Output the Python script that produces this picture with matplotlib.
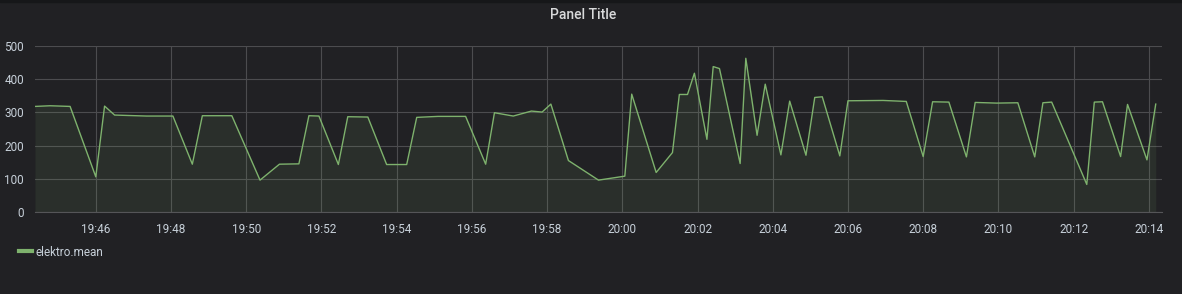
import matplotlib
matplotlib.use("Agg")
import matplotlib.pyplot as plt
import matplotlib.dates as mdates
import pandas as pd

# elektro.mean samples
times = ["19:44:23", "19:44:47", "19:45:19", "19:46:00", "19:46:14", "19:46:30",
         "19:47:21", "19:48:03", "19:48:34", "19:48:50", "19:49:37", "19:50:22",
         "19:50:53", "19:51:24", "19:51:40", "19:51:56", "19:52:27", "19:52:42",
         "19:53:14", "19:53:44", "19:54:16", "19:54:32", "19:55:06", "19:55:50",
         "19:56:22", "19:56:36", "19:57:06", "19:57:35", "19:57:52", "19:58:06",
         "19:58:34", "19:59:22", "20:00:04", "20:00:15", "20:00:54", "20:01:20",
         "20:01:31", "20:01:44", "20:01:55", "20:02:15", "20:02:25", "20:02:35",
         "20:03:08", "20:03:17", "20:03:35", "20:03:48", "20:04:13", "20:04:27",
         "20:04:53", "20:05:07", "20:05:19", "20:05:47", "20:06:00", "20:06:56",
         "20:07:33", "20:08:00", "20:08:15", "20:08:41", "20:09:09", "20:09:23",
         "20:09:57", "20:10:31", "20:10:58", "20:11:11", "20:11:25", "20:12:21",
         "20:12:33", "20:12:46", "20:13:15", "20:13:26", "20:13:57", "20:14:11"]
values = [318, 320, 318, 106, 319, 292,
          289, 289, 144, 290, 290, 96,
          144, 145, 290, 289, 143, 287,
          286, 143, 143, 285, 288, 288,
          144, 299, 289, 304, 301, 325,
          155, 96, 108, 355, 119, 179,
          354, 354, 418, 219, 438, 432,
          146, 463, 231, 385, 172, 334,
          171, 345, 347, 169, 335, 336,
          333, 167, 332, 331, 166, 330,
          328, 329, 166, 329, 331, 83,
          331, 332, 167, 324, 157, 325]
x_start = "19:44:23"
x_end = "20:14:21"

day = "2020-01-01 "
t = pd.to_datetime([day + s for s in times])

bg = "#212124"
green = "#7eb26d"
txt = "#c7d0d9"

fig = plt.figure(figsize=(11.82, 2.94), dpi=100, facecolor=bg)
ax = fig.add_axes([35 / 1182, 82 / 294, 1127 / 1182, 166 / 294])
ax.set_facecolor(bg)

ax.fill_between(t, values, 0, color=green, alpha=0.1, linewidth=0)
ax.plot(t, values, color=green, linewidth=1, label="elektro.mean")

ax.set_xlim(pd.Timestamp(day + x_start), pd.Timestamp(day + x_end))
ax.set_ylim(0, 500)
ax.set_yticks([0, 100, 200, 300, 400, 500])
ax.xaxis.set_major_locator(mdates.MinuteLocator(byminute=range(0, 60, 2)))
ax.xaxis.set_major_formatter(mdates.DateFormatter("%H:%M"))

ax.grid(True, color="#4c4c4f", linewidth=0.8)
ax.set_axisbelow(True)
for side in ["top", "right", "left"]:
    ax.spines[side].set_visible(False)
ax.spines["bottom"].set_color("#555558")
ax.tick_params(length=0, colors=txt, labelsize=8.5, pad=8)
for lab in ax.get_xticklabels() + ax.get_yticklabels():
    lab.set_fontfamily("Roboto")

fig.text(583 / 1182, 1 - 15 / 294, "Panel Title", ha="center", va="center",
         color="#d8d9da", fontsize=10, fontfamily="Roboto", fontweight="medium")

# thin darker strip on top, like the dashboard border
fig.patches.append(plt.Rectangle((0, 1 - 2 / 294), 1, 2 / 294, transform=fig.transFigure,
                                 color="#161719", zorder=0))

leg = fig.legend(loc="upper left", bbox_to_anchor=(8 / 1182, 1 - 235 / 294),
                 frameon=False, handlelength=1.1, handletextpad=0.35,
                 prop={"family": "Roboto", "size": 8.5})
for h in leg.get_lines():
    h.set_linewidth(3)
for tx in leg.get_texts():
    tx.set_color(txt)

fig.savefig("out.png", dpi=100, facecolor=bg)
